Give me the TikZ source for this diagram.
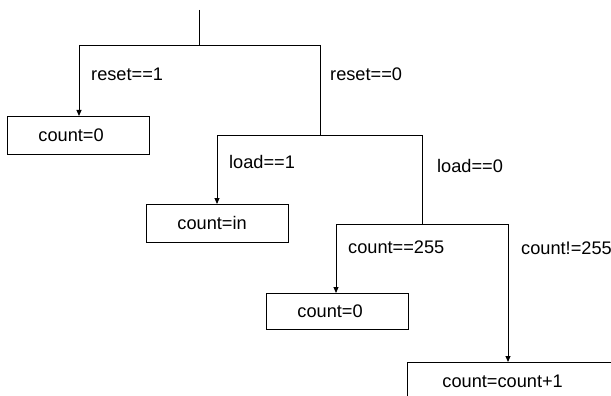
\documentclass[tikz,border=0pt]{standalone}
\usepackage{fontspec}
\setmainfont{Liberation Sans}
\usetikzlibrary{arrows.meta}
\begin{document}
\begin{tikzpicture}[x=1pt,y=-1pt,
  every node/.style={font=\fontsize{18.2}{20}\selectfont},
  box/.style={draw, line width=0.9pt, anchor=north west, minimum height=38pt, inner ysep=0pt,
    inner xsep=31pt, text width=80pt, align=left},
  wideb/.style={box, inner xsep=35pt, text width=220pt},
  lbl/.style={anchor=base west, inner sep=0pt},
  wire/.style={line width=0.9pt},
  arr/.style={wire, -{Triangle[length=6pt,width=5pt]}}]
\useasboundingbox (0,0) rectangle (611,396);
\clip (0,0) rectangle (611,396);
% boxes
\node[box] (b1) at (7,116) {count=0};
\node[box] (b2) at (146,204) {count=in};
\node[box, minimum height=36pt] (b3) at (266,293) {count=0};
\node[wideb] (b4) at (407,362) {count=count+1};
% junctions
\coordinate (top) at (199,10);
\coordinate (j1) at (199,45);
\coordinate (l1) at (79,45);
\coordinate (r1) at (320,45);
\coordinate (j2) at (320,135);
\coordinate (l2) at (217,135);
\coordinate (r2) at (422,135);
\coordinate (j3) at (422,224);
\coordinate (l3) at (336,224);
\coordinate (r3) at (508,224);
% wires
\draw[wire] (top) -- (j1);
\draw[wire] (l1) -- (r1);
\draw[arr] (l1) -- (l1 |- b1.north);
\draw[wire] (r1) -- (j2);
\draw[wire] (l2) -- (r2);
\draw[arr] (l2) -- (l2 |- b2.north);
\draw[wire] (r2) -- (j3);
\draw[wire] (l3) -- (r3);
\draw[arr] (l3) -- (l3 |- b3.north);
\draw[arr] (r3) -- (r3 |- b4.north);
% labels
\node[lbl] (t1) at (91,81) {reset==1};
\node[lbl] (t2) at (330,81) {reset==0};
\node[lbl] (t3) at (229,168) {load==1};
\node[lbl] (t4) at (437,172) {load==0};
\node[lbl] (t5) at (348,253) {count==255};
\node[lbl] (t6) at (521,254) {count!=255};
\end{tikzpicture}
\end{document}
